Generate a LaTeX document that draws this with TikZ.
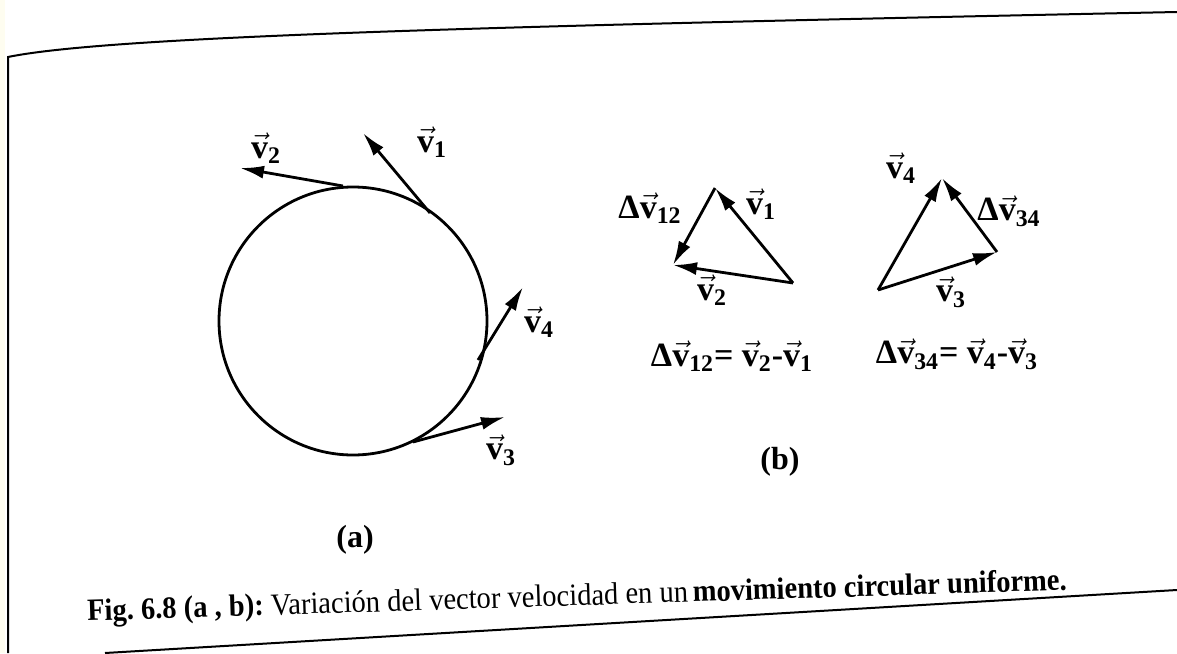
\documentclass[tikz,border=0pt]{standalone}
\usepackage{amsmath}
\usepackage{fontspec}
\setmainfont{Liberation Serif}
\usetikzlibrary{arrows.meta}
\frenchspacing
\newcommand{\velv}{\vec{\textbf{v}}}
\newcommand{\vlab}[1]{$\velv_{\textbf{#1}}$}
\begin{document}
\begin{tikzpicture}[x=0.5pt,y=-0.5pt,
  vecarrow/.style={line width=1.4pt,-{Latex[length=12pt,width=6.5pt]}},
  lab/.style={font=\fontsize{17}{19}\selectfont\bfseries, inner sep=0pt},
  panel/.style={font=\fontsize{16}{18}\selectfont\bfseries, inner sep=0pt},
  framel/.style={line width=1pt},
  caption/.style={font=\fontsize{15.5}{17}\selectfont, inner sep=0pt, rotate=1.8}]
\useasboundingbox (0,0) rectangle (1177,653);
\fill[white] (0,0) rectangle (1177,653);
\fill[black!8!yellow!6] (0,0) rectangle (5,653);
% frame
\coordinate (fbl) at (8,653);
\coordinate (ftl) at (8,57);
\coordinate (ftr) at (1177,12);
\coordinate (fbs) at (105,653);
\coordinate (fbr) at (1177,590);
\draw[framel] (fbl) -- (ftl) .. controls (110,36) and (500,26) .. (ftr);
\draw[framel] (fbs) -- (fbr);

% (a) circle
\node[circle, draw, line width=1.4pt, minimum size=134pt, inner sep=0pt] (circ) at (353,321) {};
\coordinate (p2) at (343,186);
\coordinate (t2) at (240,168);
\coordinate (p1) at (430,213);
\coordinate (t1) at (363,133);
\coordinate (p4) at (478,360);
\coordinate (t4) at (523,287);
\coordinate (p3) at (413,442);
\coordinate (t3) at (505,417);
\draw[vecarrow] (p2) -- (t2);
\draw[vecarrow] (p1) -- (t1);
\draw[vecarrow] (p4) -- (t4);
\draw[vecarrow] (p3) -- (t3);
\node[lab] (lv2) at (266,148) {\vlab{2}};
\node[lab] (lv1) at (432,142) {\vlab{1}};
\node[lab] (lv4) at (539,322) {\vlab{4}};
\node[lab] (lv3) at (501,450) {\vlab{3}};
\node[panel] (la) at (355,540) {(a)};

% (b) triangles
\coordinate (A) at (715,188);
\coordinate (B) at (673,265);
\coordinate (C) at (793,283);
\draw[vecarrow] (C) -- (A);
\draw[vecarrow] (C) -- (B);
\draw[vecarrow] (A) -- (B);
\node[lab] (ld12) at (650,208) {Δ\vlab{12}};
\node[lab] (lt1) at (761,204) {\vlab{1}};
\node[lab] (lt2) at (712,290) {\vlab{2}};

\coordinate (D) at (878,290);
\coordinate (E) at (942,178);
\coordinate (F) at (997,252);
\draw[vecarrow] (D) -- (E);
\draw[vecarrow] (D) -- (F);
\draw[vecarrow] (F) -- (E);
\node[lab] (lt4) at (901,168) {\vlab{4}};
\node[lab] (ld34) at (1009,211) {Δ\vlab{34}};
\node[lab] (lt3) at (951,292) {\vlab{3}};

\node[lab] (eq1) at (732,356) {Δ\vlab{12}= \vlab{2}-\vlab{1}};
\node[lab] (eq2) at (957,354) {Δ\vlab{34}= \vlab{4}-\vlab{3}};
\node[panel] (lb) at (780,462) {(b)};

% caption
\node[caption] (cap) at (577,598) {\scalebox{0.92}[1]{\textbf{Fig. 6.8 (a , b):} Variación del vector velocidad en un\,\textbf{movimiento circular uniforme.}}};
\end{tikzpicture}
\end{document}
